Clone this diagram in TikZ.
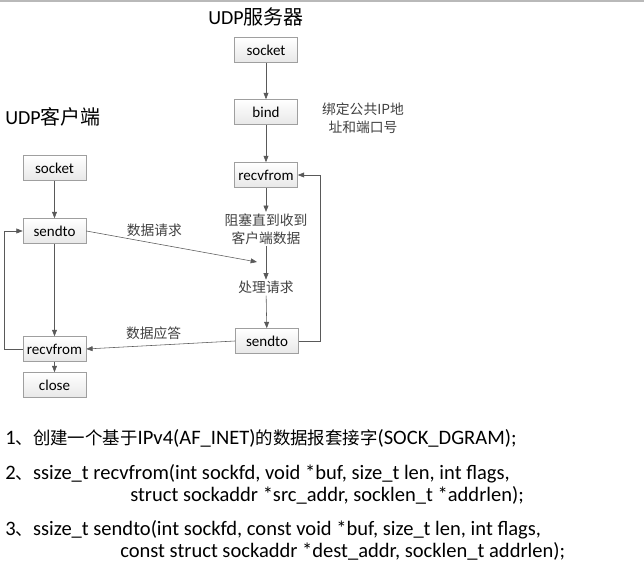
\documentclass[tikz,border=0pt]{standalone}
\usepackage{fontspec}
\setmainfont{Carlito}
\newfontfamily\cjk{Noto Sans CJK SC}
\newcommand{\zhtxt}[1]{{\cjk\fontsize{12.4}{15}\selectfont #1}}
\usetikzlibrary{arrows.meta}

\begin{document}
\begin{tikzpicture}[
        box/.style={draw=gray!75, top color=white, bottom color=gray!18, minimum width=1.575cm, minimum height=0.625cm, inner sep=0pt, font=\fontsize{10.7}{12}\selectfont},
        lbl/.style={font=\cjk\fontsize{9.8}{12.8}\selectfont, text=black!75, align=center, inner sep=1pt},
        title/.style={anchor=base west, inner sep=0pt, font=\fontsize{14.2}{17}\selectfont},
        txt/.style={anchor=base west, inner sep=0pt, font=\fontsize{14.6}{17}\selectfont},
        arr/.style={draw=black!65, -{Triangle[length=4.5pt,width=3.5pt]}}
    ]
        \useasboundingbox (0,0) rectangle (16.1,14.15);
        \draw[gray!55, line width=1.4pt] (0,14.125) -- (16.1,14.125);

        % server side
        \node[title] (stitle) at (5.2,13.525) {UDP{\cjk 服务器}};
        \node[box] (ssock) at (6.65,12.9) {socket};
        \node[box] (sbind) at (6.65,11.35) {bind};
        \node[lbl] (snote) at (9.075,11.19) {绑定公共IP地\\址和端口号};
        \node[box] (srecv) at (6.65,9.775) {recvfrom};
        \node[lbl] (swait) at (6.65,8.425) {阻塞直到收到\\客户端数据};
        \node[lbl] (sproc) at (6.65,6.96) {处理请求};
        \node[box] (ssend) at (6.675,5.625) {sendto};

        \draw[arr] (ssock) -- (sbind);
        \draw[arr] (sbind) -- (srecv);
        \draw[arr] (srecv) -- (swait);
        \draw[arr] (swait) -- (sproc);
        \draw[arr] (sproc) -- (ssend);
        \draw[arr] (ssend.east) -- ++(0.525,0) |- (srecv.east);

        % client side
        \node[title] (ctitle) at (0.125,11.025) {UDP{\cjk 客户端}};
        \node[box] (csock) at (1.3625,9.95) {socket};
        \node[box] (csend) at (1.3625,8.375) {sendto};
        \node[box] (crecv) at (1.3625,5.425) {recvfrom};
        \node[box] (cclose) at (1.3625,4.525) {close};

        \draw[arr] (csock) -- (csend);
        \draw[arr] (csend) -- (crecv);
        \draw[arr] (crecv) -- (cclose);
        \draw[arr] (crecv.west) -- ++(-0.45,0) |- (csend.west);

        % request / reply
        \coordinate (req) at (6.425,7.6);
        \draw[arr] (csend.east) -- (req);
        \node[lbl] (lreq) at (3.86,8.39) {数据请求};
        \draw[arr] (ssend.west) -- (crecv.east);
        \node[lbl] (lresp) at (3.84,5.81) {数据应答};

        % notes
        \node[txt] (l1) at (0.125,3.025) {1\zhtxt{、创建一个基于}IPv4(AF\_INET)\zhtxt{的数据报套接字}(SOCK\_DGRAM);};
        \node[txt] (l2) at (0.125,2.15) {2\zhtxt{、}ssize\_t recvfrom(int sockfd, void *buf, size\_t len, int flags,};
        \node[txt] (l2b) at (3.25,1.6) {struct sockaddr *src\_addr, socklen\_t *addrlen);};
        \node[txt] (l3) at (0.125,0.75) {3\zhtxt{、}ssize\_t sendto(int sockfd, const void *buf, size\_t len, int flags,};
        \node[txt] (l3b) at (3.0,0.2) {const struct sockaddr *dest\_addr, socklen\_t addrlen);};
    \end{tikzpicture}
\end{document}
